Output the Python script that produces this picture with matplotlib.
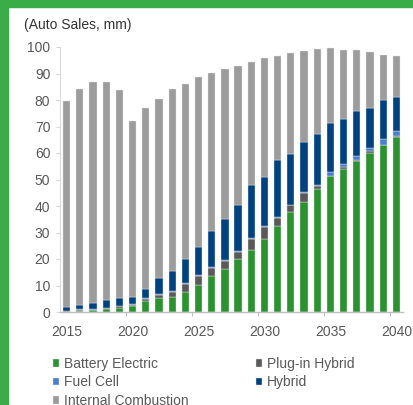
import matplotlib
matplotlib.use('Agg')
import matplotlib.pyplot as plt
import numpy as np
from matplotlib.patches import Rectangle

plt.rcParams['font.family'] = ['Liberation Sans', 'DejaVu Sans']

years = list(range(2015, 2041))

battery_electric = [0.1, 0.3, 0.6, 1.1, 1.4, 2.4, 4.0, 5.4, 5.8, 7.7, 10.1, 13.5, 16.1,
                    19.9, 23.4, 27.7, 32.3, 37.6, 41.6, 46.3, 51.2, 54.0, 57.1, 60.1, 62.9, 66.2]
plug_in_hybrid = [0.1, 0.5, 0.3, 0.3, 0.8, 0.4, 0.9, 1.2, 1.9, 2.9, 3.5, 3.2, 3.2,
                  2.9, 4.2, 4.5, 3.2, 2.6, 3.3, 1.3, 0.2, 0.9, 0.3, 0.5, 0.2, 0.2]
fuel_cell = [0.2, 0.2, 0.2, 0.2, 0.2, 0.2, 0.3, 0.2, 0.2, 0.2, 0.2, 0.2, 0.2,
             0.2, 0.2, 0.2, 0.2, 0.2, 0.3, 0.3, 1.4, 0.9, 1.4, 1.3, 2.2, 1.9]
hybrid = [1.6, 1.5, 2.4, 2.9, 3.0, 2.8, 3.6, 6.2, 7.4, 9.2, 10.8, 13.7, 15.6,
          17.5, 20.1, 18.6, 21.8, 19.3, 19.1, 19.4, 18.4, 17.0, 16.9, 15.2, 14.7, 13.0]
internal_combustion = [77.6, 81.8, 83.4, 82.4, 78.4, 66.4, 68.1, 67.4, 68.7, 65.9, 64.0, 59.7, 56.6,
                       52.3, 46.4, 44.7, 39.2, 37.9, 34.1, 31.8, 28.3, 26.2, 23.0, 21.1, 17.0, 15.2]

series = [
    ('Battery Electric', battery_electric, '#2a9330'),
    ('Plug-in Hybrid', plug_in_hybrid, '#595959'),
    ('Fuel Cell', fuel_cell, '#4a7fd0'),
    ('Hybrid', hybrid, '#00427f'),
    ('Internal Combustion', internal_combustion, '#9c9c9c'),
]

fig = plt.figure(figsize=(4.14, 4.05), dpi=100)
ax = fig.add_axes([60 / 414, 93 / 405, 343 / 414, 265 / 405])

bottom = np.zeros(len(years))
handles = {}
for name, vals, col in series:
    b = ax.bar(years, vals, width=0.55, bottom=bottom, color=col,
               edgecolor='#e4e4e4', linewidth=0.3, label=name)
    handles[name] = b
    bottom += np.array(vals)

ax.set_xlim(2014.5, 2040.5)
ax.set_ylim(0, 100)
ax.set_yticks(range(0, 101, 10))
ax.set_xticks(range(2015, 2041, 5))
ax.set_xticks(np.arange(2019.5, 2041, 5), minor=True)
ax.tick_params(axis='x', which='major', length=0, pad=9, labelsize=10, labelcolor='#595959')
ax.tick_params(axis='x', which='minor', length=3, color='#bfbfbf', width=0.8)
ax.tick_params(axis='y', length=3, color='#d9d9d9', width=0.8, pad=4, labelsize=10, labelcolor='#595959')

for s in ['top', 'right']:
    ax.spines[s].set_visible(False)
ax.spines['left'].set_color('#d9d9d9')
ax.spines['bottom'].set_color('#bfbfbf')
ax.spines['left'].set_linewidth(0.8)
ax.spines['bottom'].set_linewidth(1.0)

fig.text(24 / 414, (405 - 25) / 405, '(Auto Sales, mm)', fontsize=10, color='#333333',
         ha='left', va='center')

order = ['Battery Electric', 'Fuel Cell', 'Internal Combustion', 'Plug-in Hybrid', 'Hybrid']
fig.legend([handles[n] for n in order], order, ncol=2, loc='upper left',
           bbox_to_anchor=(53 / 414, (405 - 357) / 405), frameon=False, fontsize=10,
           handlelength=0.45, handleheight=0.45, handletextpad=0.35, columnspacing=4.85,
           labelspacing=0.32, borderpad=0, borderaxespad=0, labelcolor='#595959')

# green frame strips
fig.patches.append(Rectangle((0, 0), 8 / 414, 1, transform=fig.transFigure,
                             color='#3aac48', zorder=10))
fig.patches.append(Rectangle((0, 1 - 7 / 405), 1, 7 / 405, transform=fig.transFigure,
                             color='#3aac48', zorder=10))

fig.savefig('out.png', dpi=100)
